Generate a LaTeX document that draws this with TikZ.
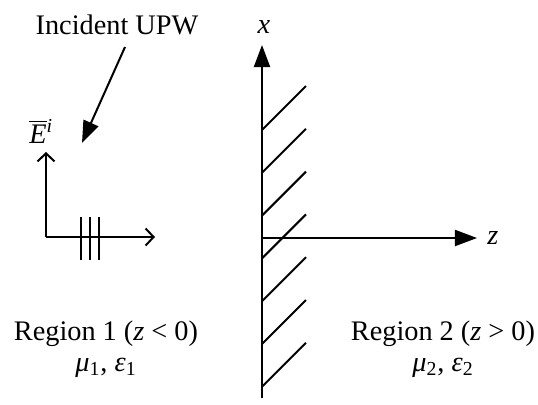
\documentclass[tikz,border=0pt]{standalone}
\usepackage{fontspec}
\setmainfont{Liberation Serif}
\usetikzlibrary{arrows.meta}
\begin{document}
\begin{tikzpicture}[x=0.5pt,y=-0.5pt,
  ln/.style={line width=1pt},
  filltip/.style={-{Triangle[length=11pt,width=8pt]}},
  opentip/.style={-{Straight Barb[length=4pt,width=8.5pt]}},
  lbl/.style={inner sep=0pt,font=\fontsize{14.15pt}{17pt}\selectfont}]
\useasboundingbox (0,0) rectangle (538,404);
% axes
\coordinate (O) at (262,238);
\coordinate (xtop) at (262,45);
\coordinate (xbot) at (262,398);
\coordinate (ztip) at (477,238);
\draw[ln,filltip] (xbot) -- (xtop);
\draw[ln,filltip] (O) -- (ztip);
\node[lbl] (xl) at (264,27) {\textit{x}};
\node[lbl] (zl) at (493,238) {\textit{z}};
% hatching
\foreach \k in {0,...,6}{
  \draw[ln] (262,{130+42.8*\k}) -- (306,{86+42.8*\k});
}
% incident wave
\node[lbl,anchor=base] (inc) at (117,34) {Incident UPW};
\coordinate (incA) at (125,47);
\coordinate (incB) at (82,143);
\draw[ln,filltip] (incA) -- (incB);
\coordinate (C) at (46,237);
\coordinate (Etip) at (46,152);
\coordinate (ktip) at (155,237);
\draw[ln,opentip] (C) -- (Etip);
\draw[ln,opentip] (C) -- (ktip);
\foreach \xx in {81,90,99}{
  \draw[ln] (\xx,217) -- (\xx,260);
}
\node[lbl,anchor=base west] (El) at (29,143) {$\overline{\hbox{\textit{E}}}$\textsuperscript{\textit{i}}};
% regions
\node[lbl,anchor=base] (r1) at (106,340) {Region 1 (\textit{z} < 0)};
\node[lbl,anchor=base] (m1) at (106,371) {\textit{μ}\textsubscript{1}, \textit{ε}\textsubscript{1}};
\node[lbl,anchor=base] (r2) at (443,340) {Region 2 (\textit{z} > 0)};
\node[lbl,anchor=base] (m2) at (443,371) {\textit{μ}\textsubscript{2}, \textit{ε}\textsubscript{2}};
\end{tikzpicture}
\end{document}
